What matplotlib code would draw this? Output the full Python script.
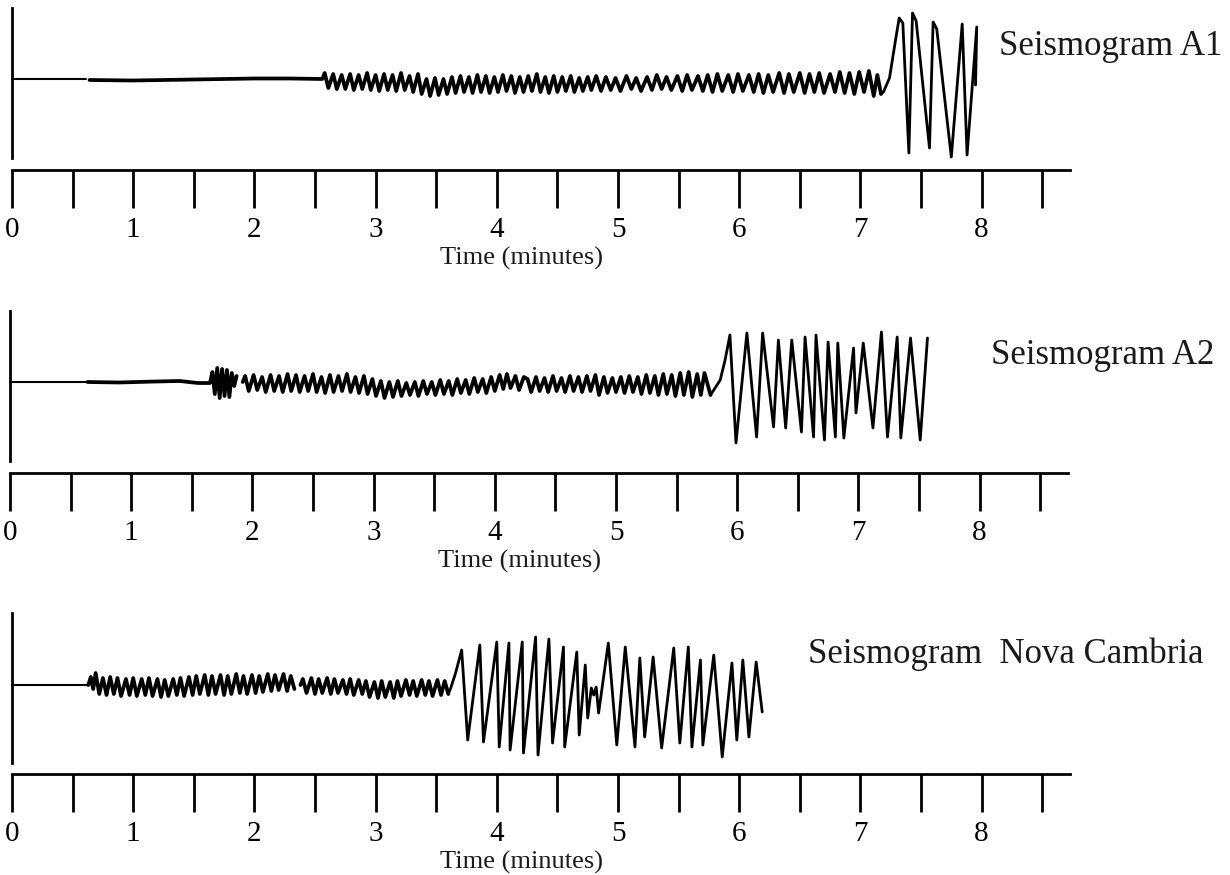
import numpy as np
import matplotlib
matplotlib.use('Agg')
import matplotlib.pyplot as plt

plt.rcParams['font.family'] = ['Liberation Serif', 'DejaVu Serif']

nan = np.nan

# time in minutes, amplitude in trace units (0 = rest line)
a1_lead = [(0, 0), (0.61, 0)]
a1_small = [
    (0.64, -1), (1.0, -1.5), (1.5, -0.5), (2.0, 0.5), (2.3, 0.5), (2.56, 0),
    (2.58, 6), (2.61, -9), (2.65, 5), (2.68, -10), (2.72, 4), (2.75, -10),
    (2.79, 5), (2.82, -11), (2.86, 4), (2.89, -10), (2.93, 6), (2.96, -11),
    (3.00, 4), (3.03, -12), (3.07, 5), (3.10, -11), (3.14, 4), (3.17, -12),
    (3.21, 6), (3.24, -11), (3.28, 3), (3.31, -13), (3.35, 5), (3.38, -15),
    (3.42, 0), (3.45, -17), (3.49, 1), (3.52, -16), (3.56, 0), (3.59, -15),
    (3.63, 2), (3.66, -14), (3.70, 3), (3.73, -13), (3.77, 2), (3.80, -14),
    (3.84, 4), (3.87, -13), (3.91, 3), (3.94, -14), (3.98, 2), (4.01, -13),
    (4.05, 4), (4.08, -12), (4.12, 3), (4.15, -14), (4.19, 2), (4.22, -13),
    (4.26, 3), (4.29, -12), (4.33, 5), (4.36, -13), (4.40, 2), (4.43, -14),
    (4.47, 3), (4.50, -13), (4.54, 2), (4.57, -12), (4.61, 3), (4.64, -13),
    (4.68, 1), (4.71, -12), (4.75, 2), (4.78, -11), (4.82, 3), (4.86, -12),
    (4.90, 2), (4.94, -11), (4.98, 1), (5.02, -12), (5.07, 3), (5.11, -10),
    (5.15, 1), (5.19, -12), (5.24, 2), (5.28, -11), (5.32, 4), (5.36, -10),
    (5.40, 2), (5.44, -11), (5.49, 3), (5.53, -12), (5.57, 4), (5.61, -11),
    (5.66, 3), (5.70, -12), (5.74, 4), (5.78, -13), (5.82, 5), (5.86, -12),
    (5.91, 4), (5.95, -13), (5.99, 5), (6.03, -12), (6.08, 4), (6.12, -13),
    (6.16, 5), (6.20, -14), (6.24, 4), (6.28, -13), (6.33, 6), (6.37, -14),
    (6.41, 5), (6.45, -13), (6.50, 6), (6.54, -14), (6.58, 5), (6.62, -13),
    (6.66, 6), (6.70, -14), (6.75, 5), (6.79, -13), (6.83, 7), (6.87, -14),
    (6.91, 6), (6.95, -15), (6.99, 7), (7.03, -13), (7.07, 8), (7.11, -17),
    (7.14, 4), (7.17, -15),
]
a1_big = [
    (7.17, -15), (7.19, -13), (7.24, 1), (7.29, 39), (7.32, 61), (7.35, 56),
    (7.40, -74), (7.43, 66), (7.46, 58), (7.57, -69), (7.60, 57), (7.63, 50),
    (7.75, -78), (7.84, 55), (7.88, -76), (7.96, 52), (7.95, -6),
]

a2_lead = [(0, 0), (0.64, 0)]
a2_small = [
    (0.64, 0), (0.9, -0.5), (1.2, 0.5), (1.4, 1), (1.55, -1), (1.65, -1),
    (1.67, 10), (1.69, -12), (1.71, 14), (1.73, -16), (1.75, 13), (1.77, -14),
    (1.79, 12), (1.81, -15), (1.83, 9), (1.85, -4), (1.87, 6), (nan, nan),
    (1.92, 0), (1.94, 6), (1.97, -9), (2.01, 7), (2.04, -8), (2.08, 5), (2.11, -10),
    (2.15, 7), (2.18, -9), (2.22, 6), (2.25, -10), (2.29, 8), (2.32, -9),
    (2.36, 7), (2.39, -10), (2.43, 6), (2.46, -9), (2.50, 8), (2.53, -10),
    (2.57, 5), (2.60, -11), (2.64, 7), (2.67, -10), (2.71, 6), (2.74, -9),
    (2.78, 8), (2.81, -10), (2.85, 5), (2.88, -11), (2.92, 6), (2.95, -12),
    (2.99, 3), (3.02, -14), (3.06, 1), (3.09, -16), (3.13, 0), (3.16, -15),
    (3.20, 1), (3.23, -14), (3.27, -1), (3.30, -13), (3.34, 0), (3.37, -14),
    (3.41, 1), (3.44, -12), (3.48, 0), (3.51, -13), (3.55, 2), (3.58, -12),
    (3.62, 1), (3.65, -13), (3.69, 3), (3.72, -11), (3.76, 2), (3.79, -12),
    (3.83, 4), (3.86, -10), (3.90, 3), (3.93, -11), (3.97, 5), (4.00, -9),
    (4.04, 7), (4.07, -7), (4.10, 8), (4.13, -6), (4.17, 6), (4.20, -8),
    (4.24, 5), (4.27, 3), (4.30, -10), (4.34, 5), (4.37, -9), (4.41, 4),
    (4.44, -10), (4.48, 6), (4.51, -9), (4.55, 4), (4.58, -10), (4.62, 6),
    (4.65, -9), (4.69, 5), (4.72, -10), (4.76, 6), (4.79, -9), (4.83, 7),
    (4.86, -13), (4.90, 5), (4.93, -11), (4.97, 4), (5.00, -10), (5.04, 5),
    (5.07, -11), (5.11, 6), (5.14, -10), (5.18, 5), (5.21, -12), (5.25, 7),
    (5.28, -11), (5.32, 6), (5.35, -13), (5.39, 8), (5.42, -12), (5.46, 7),
    (5.49, -14), (5.53, 9), (5.56, -13), (5.60, 10), (5.63, -15), (5.67, 8),
    (5.70, -13), (5.73, 9), (5.78, -13),
]
a2_big = [
    (5.78, -13), (5.86, 2), (5.90, 22), (5.94, 47), (5.99, -61), (6.08, 49),
    (6.16, -55), (6.21, 49), (6.30, -45), (6.34, 42), (6.40, -46), (6.45, 42),
    (6.53, -50), (6.56, 45), (6.63, -55), (6.65, 47), (6.72, -58), (6.75, 40),
    (6.81, -55), (6.83, 39), (6.88, -56), (6.96, 34), (6.98, -31), (7.04, 39),
    (7.12, -46), (7.19, 50), (7.24, -55), (7.32, 45), (7.35, -56), (7.43, 44),
    (7.51, -58), (7.57, 44),
]

a3_lead = [(0, 0), (0.63, 0)]
a3_small = [
    (0.63, 0), (0.65, 8), (0.67, -4), (0.69, 12), (0.72, -9), (0.75, 7),
    (0.78, -10), (0.81, 8), (0.84, -9), (0.87, 7), (0.90, -11), (0.94, 6),
    (0.97, -10), (1.00, 7), (1.03, -11), (1.07, 6), (1.10, -10), (1.13, 7),
    (1.16, -11), (1.20, 6), (1.23, -12), (1.26, 5), (1.29, -11), (1.33, 6),
    (1.36, -10), (1.39, 7), (1.42, -11), (1.46, 8), (1.49, -10), (1.52, 9),
    (1.55, -9), (1.59, 10), (1.62, -10), (1.65, 9), (1.68, -9), (1.72, 10),
    (1.75, -10), (1.78, 9), (1.81, -9), (1.85, 11), (1.88, -8), (1.91, 9),
    (1.94, -9), (1.98, 10), (2.01, -8), (2.04, 9), (2.07, -7), (2.11, 11),
    (2.14, -6), (2.17, 10), (2.20, -5), (2.24, 11), (2.27, -6), (2.30, 9),
    (2.33, -4), (nan, nan),
    (2.38, 0), (2.40, 6), (2.43, -8), (2.47, 7), (2.50, -9), (2.53, 6),
    (2.56, -8), (2.60, 7), (2.63, -9), (2.66, 6), (2.69, -8), (2.73, 5),
    (2.76, -9), (2.79, 6), (2.82, -10), (2.86, 5), (2.89, -9), (2.92, 4),
    (2.95, -12), (2.99, 3), (3.02, -13), (3.05, 4), (3.08, -12), (3.12, 3),
    (3.15, -13), (3.18, 4), (3.21, -11), (3.25, 5), (3.28, -10), (3.31, 4),
    (3.34, -11), (3.38, 5), (3.41, -10), (3.44, 4), (3.47, -11), (3.51, 5),
    (3.54, -10), (3.57, 4), (3.60, -9),
]
a3_big = [
    (3.60, -9), (3.62, -3), (3.66, 12), (3.71, 35), (3.76, -55), (3.86, 40),
    (3.89, -57), (4.00, 43), (4.02, -62), (4.10, 42), (4.11, -65), (4.21, 43),
    (4.22, -68), (4.32, 48), (4.34, -70), (4.43, 46), (4.46, -58), (4.55, 38),
    (4.56, -62), (4.66, 33), (4.68, -50), (4.73, 20), (4.75, -33), (4.78, -3),
    (4.80, -10), (4.82, -2), (4.84, -28), (4.92, 42), (4.99, -60), (5.06, 38),
    (5.14, -62), (5.18, 27), (5.22, -52), (5.29, 28), (5.36, -63), (5.46, 37),
    (5.51, -58), (5.58, 38), (5.61, -62), (5.68, 25), (5.70, -60), (5.79, 30),
    (5.86, -72), (5.94, 22), (5.98, -55), (6.03, 25), (6.08, -52), (6.14, 23),
    (6.19, -27),
]

names = ['Seismogram A1', 'Seismogram A2', 'Seismogram  Nova Cambria']
ticks = list(range(9))

# layout (figure pixels): left of time zero, rest-line height, axis line offset
layout = [
    dict(x0=12, base=79, axis=-91, bar=(-79, 71), name_at=(8.14, 24)),
    dict(x0=10, base=382, axis=-91, bar=(-79, 71), name_at=(8.09, 18)),
    dict(x0=12, base=685, axis=-89, bar=(-78, 72), name_at=(6.57, 22)),
]
traces = [(a1_lead, a1_small, a1_big), (a2_lead, a2_small, a2_big),
          (a3_lead, a3_small, a3_big)]

W, H = 1230, 875
PX_PER_MIN = 121.2
span = 1058 / PX_PER_MIN

fig = plt.figure(figsize=(W / 100, H / 100), dpi=100)

for (lead, small, big), lay, name in zip(traces, layout, names):
    ax = fig.add_axes([lay['x0'] / W, 1 - (lay['base'] + 100) / H, 1058 / W, 180 / H])
    ax.set_xlim(0, span)
    ax.set_ylim(-100, 80)
    ax.patch.set_visible(False)

    for seg, lw in ((lead, 1.5), (small, 2.7), (big, 2.0)):
        t, y = np.array(seg, dtype=float).T
        ax.plot(t, y, color='black', lw=lw, solid_joinstyle='round',
                solid_capstyle='round', clip_on=False)

    for s in ('top', 'right'):
        ax.spines[s].set_visible(False)
    ax.spines['left'].set_bounds(*lay['bar'])
    ax.spines['left'].set_linewidth(2)
    ax.spines['bottom'].set_position(('data', lay['axis']))
    ax.spines['bottom'].set_linewidth(2)
    ax.set_yticks([])
    ax.set_xticks(ticks)
    ax.set_xticks([v + 0.5 for v in ticks], minor=True)
    ax.tick_params(axis='x', which='both', direction='out', length=27,
                   width=2, pad=7, labelsize=21, colors='black')

    ax.text(4.2, lay['axis'] - 95, 'Time (minutes)', ha='center', va='baseline',
            fontsize=19, color='#1a1a1a')
    ax.text(*lay['name_at'], name, ha='left', va='baseline', fontsize=25,
            color='#1a1a1a')

fig.savefig('out.png', dpi=100)
